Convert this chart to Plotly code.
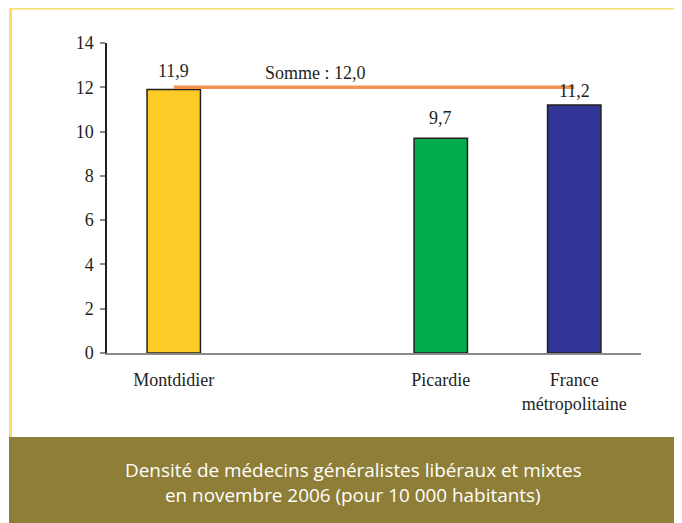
import plotly.graph_objects as go

# ---- data ----
categories = ["Montdidier", "", "Picardie", "France<br>métropolitaine"]
values = [11.9, None, 9.7, 11.2]
bar_colors = ["#FCCB26", None, "#00AC4D", "#313696"]
somme_value = 12.0
somme_label = "Somme : 12,0"
y_ticks = [0, 2, 4, 6, 8, 10, 12, 14]
footer_lines = ["Densité de médecins généralistes libéraux et mixtes",
                "en novembre 2006 (pour 10 000 habitants)"]

# ---- style ----
OFF = 8  # page body margin
W, H = 682 - OFF, 523 - OFF
ML, MR, MT, MB = 107 - OFF, 41, 43 - OFF, 170
serif = "Liberation Serif, Times New Roman, serif"
txt_color = "#231F20"
label_shift = [7, 0, 8, 2]

pos = list(range(len(categories)))
bx = [p for p, v in zip(pos, values) if v is not None]
by = [v for v in values if v is not None]
bc = [c for c, v in zip(bar_colors, values) if v is not None]

fig = go.Figure()
fig.add_trace(go.Bar(
    x=bx, y=by, width=0.4,
    marker=dict(color=bc, line=dict(color="#231F20", width=1.5)),
    showlegend=False, hoverinfo="skip",
))
fig.add_trace(go.Scatter(
    x=[pos[0], pos[-1]], y=[somme_value, somme_value], mode="lines",
    line=dict(color="#F5924F", width=3.5), showlegend=False, hoverinfo="skip",
))

annotations = []
for p, v in zip(pos, values):
    if v is None:
        continue
    annotations.append(dict(
        x=p, y=v, xref="x", yref="y", text=f"{v:.1f}".replace(".", ","),
        showarrow=False, yanchor="bottom", yshift=label_shift[p],
        font=dict(family=serif, size=18, color=txt_color),
    ))
annotations.append(dict(
    x=1.06, y=somme_value, xref="x", yref="y", text=somme_label,
    showarrow=False, yanchor="bottom", yshift=2,
    font=dict(family=serif, size=18, color=txt_color),
))

pw, ph = W - ML - MR, H - MT - MB
def px_x(sx):
    return (sx - OFF - ML) / pw
def px_y(sy):
    return (H - MB - (sy - OFF)) / ph

for i, line in enumerate(footer_lines):
    annotations.append(dict(
        x=px_x(353), y=px_y(470 + 25 * i), xref="paper", yref="paper",
        text=line, showarrow=False, xanchor="center", yanchor="middle",
        font=dict(family="Open Sans, Noto Sans, sans-serif", size=18.9, color="white"),
    ))

shapes = [
    dict(type="rect", xref="paper", yref="paper",
         x0=px_x(9), x1=px_x(700), y0=px_y(437), y1=px_y(540),
         fillcolor="#8E7E37", line=dict(width=0), layer="below"),
    dict(type="path", xref="paper", yref="paper",
         path=f"M {px_x(10.5)},{px_y(437)} L {px_x(10.5)},{px_y(8)} L {px_x(700)},{px_y(8)}",
         line=dict(color="#FBDD6A", width=3), layer="below"),
]

fig.update_layout(
    width=W, height=H,
    margin=dict(l=ML, r=MR, t=MT, b=MB),
    paper_bgcolor="white", plot_bgcolor="white",
    annotations=annotations, shapes=shapes,
    xaxis=dict(
        range=[-0.5, len(categories) - 0.5],
        tickvals=bx, ticktext=[categories[p] for p in bx],
        showgrid=False, zeroline=False, showline=True,
        linecolor="#8A8A8A", linewidth=1.5, ticks="",
        ticklabelstandoff=10,
        tickfont=dict(family=serif, size=18, color=txt_color),
    ),
    yaxis=dict(
        range=[0, 14], tickvals=y_ticks,
        showgrid=False, zeroline=False, showline=True,
        linecolor="#231F20", linewidth=1.5,
        ticks="outside", ticklen=5, tickcolor="#8A8A8A", tickwidth=1.5,
        ticklabelstandoff=3,
        tickfont=dict(family=serif, size=18, color=txt_color),
    ),
)

fig.write_html("out.html")
